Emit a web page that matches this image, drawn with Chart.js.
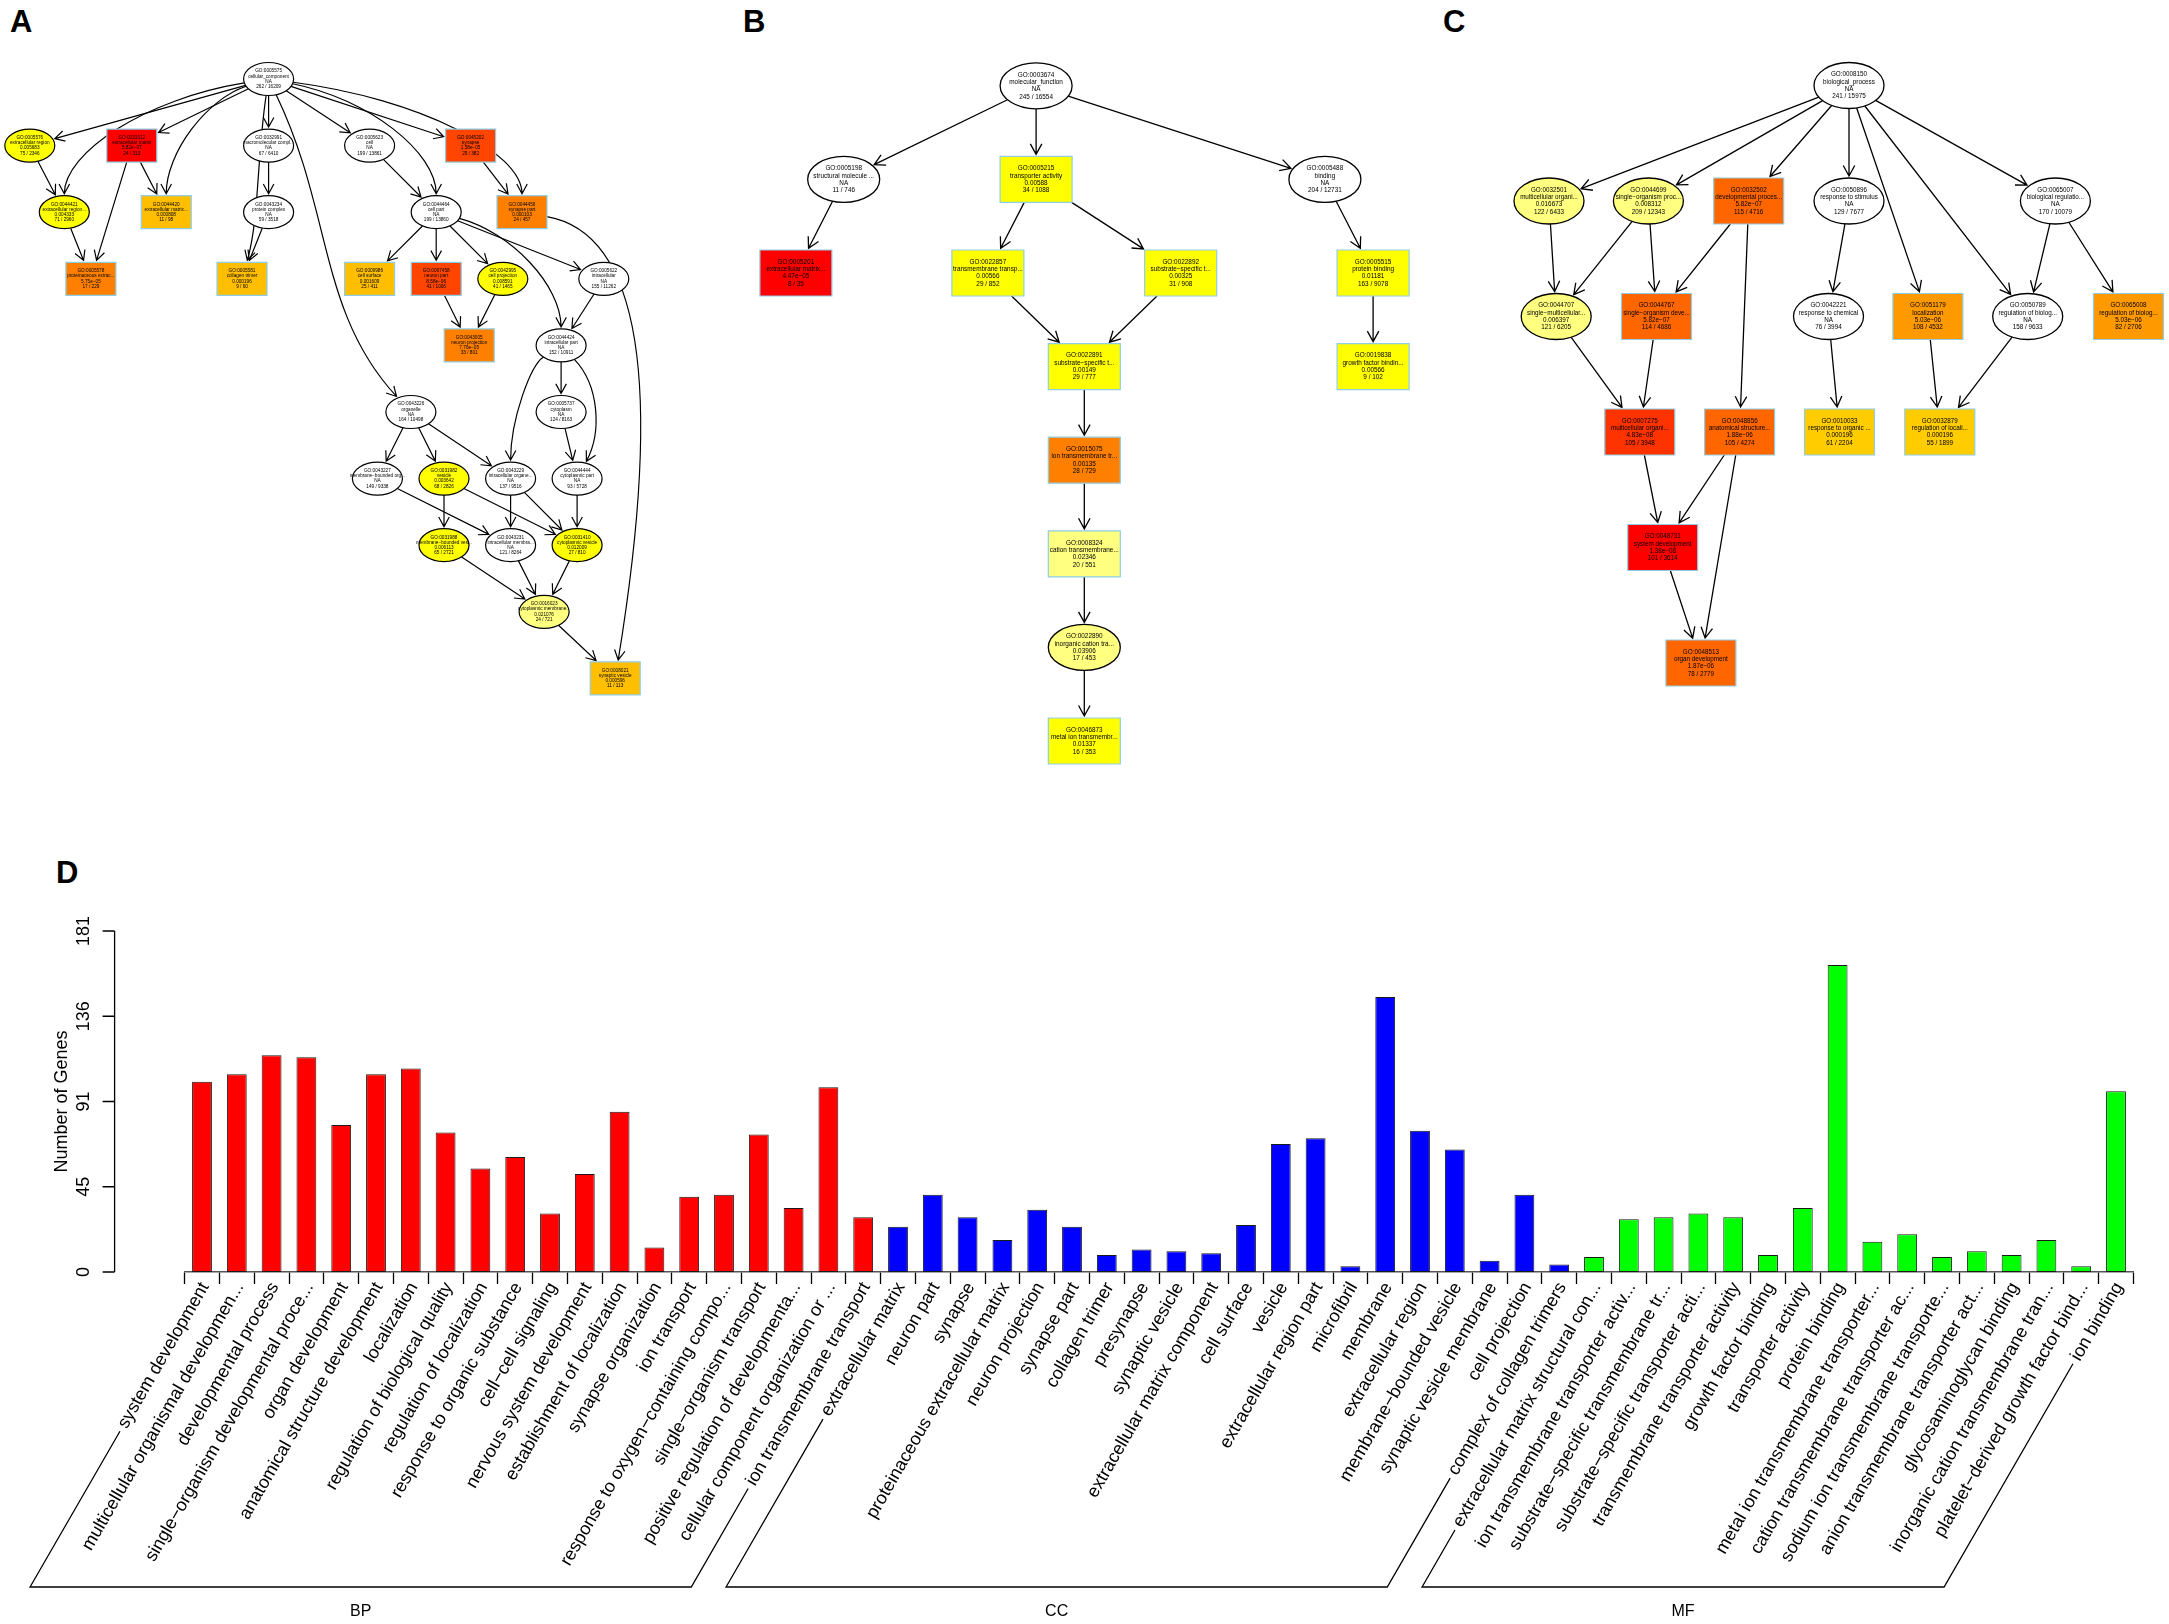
<!DOCTYPE html>
<html>
<head>
<meta charset="utf-8">
<script src="https://cdn.jsdelivr.net/npm/chart.js@4.4.1/dist/chart.umd.min.js"></script>
<style>
  body { margin: 0; background: #fff; width: 2169px; height: 1624px; position: relative; overflow: hidden; }
  canvas { position: absolute; }
  .tag { position: absolute; font: bold 31px "Liberation Sans", Arial, sans-serif; line-height: 1; color: #000; }
</style>
</head>
<body>
<div class="tag" style="left:10px;top:6px">A</div>
<div class="tag" style="left:743px;top:6px">B</div>
<div class="tag" style="left:1443px;top:6px">C</div>
<div class="tag" style="left:56px;top:857px">D</div>
<canvas id="graphA" width="720" height="720" style="left:0;top:0"></canvas>
<canvas id="graphB" width="720" height="800" style="left:720px;top:0"></canvas>
<canvas id="graphC" width="729" height="720" style="left:1440px;top:0"></canvas>
<canvas id="barD" width="2169" height="784" style="left:0;top:840px"></canvas>
<script>
// ---------- panel D data ----------
const bpLabels = ['system development', 'multicellular organismal developmen...', 'developmental process',
  'single\u2212organism developmental proce...', 'organ development', 'anatomical structure development',
  'localization', 'regulation of biological quality', 'regulation of localization',
  'response to organic substance', 'cell\u2212cell signaling', 'nervous system development',
  'establishment of localization', 'synapse organization', 'ion transport',
  'response to oxygen\u2212containing compo...', 'single\u2212organism transport',
  'positive regulation of developmenta...', 'cellular component organization or ...',
  'ion transmembrane transport'];
const bpCounts = [101, 105, 115, 114, 78, 105, 108, 74, 55, 61, 31, 52, 85, 13, 40, 41, 73, 34, 98, 29];

const ccLabels = ['extracellular matrix', 'neuron part', 'synapse', 'proteinaceous extracellular matrix',
  'neuron projection', 'synapse part', 'collagen trimer', 'presynapse', 'synaptic vesicle',
  'extracellular matrix component', 'cell surface', 'vesicle', 'extracellular region part', 'microfibril',
  'membrane', 'extracellular region', 'membrane\u2212bounded vesicle', 'synaptic vesicle membrane',
  'cell projection', 'complex of collagen trimers'];
const ccCounts = [24, 41, 29, 17, 33, 24, 9, 12, 11, 10, 25, 68, 71, 3, 146, 75, 65, 6, 41, 4];

const mfLabels = ['extracellular matrix structural con...', 'ion transmembrane transporter activ...',
  'substrate\u2212specific transmembrane tr...', 'substrate\u2212specific transporter acti...',
  'transmembrane transporter activity', 'growth factor binding', 'transporter activity', 'protein binding',
  'metal ion transmembrane transporter...', 'cation transmembrane transporter ac...',
  'sodium ion transmembrane transporte...', 'anion transmembrane transporter act...',
  'glycosaminoglycan binding', 'inorganic cation transmembrane tran...',
  'platelet\u2212derived growth factor bind...', 'ion binding'];
const mfCounts = [8, 28, 29, 31, 29, 9, 34, 163, 16, 20, 8, 11, 9, 17, 3, 96];

const groupNames = ['BP', 'CC', 'MF'];
const yTicks = [0, 45.25, 90.5, 135.75, 181];
const yTickLabels = ['0', '45', '91', '136', '181'];

// ---------- panel A-C data (GO id, term, p-value, genes) ----------
const aTerms = [
  ['GO:0005575', 'cellular_component', 'NA', '262 / 16209'],
  ['GO:0005576', 'extracellular region', '0.005683', '75 / 2346'],
  ['GO:0031012', 'extracellular matrix', '5.82e\u221207', '24 / 313'],
  ['GO:0032991', 'macromolecular compl...', 'NA', '67 / 6410'],
  ['GO:0005623', 'cell', 'NA', '199 / 13861'],
  ['GO:0045202', 'synapse', '1.58e\u221205', '29 / 382'],
  ['GO:0044421', 'extracellular region...', '0.004333', '71 / 2960'],
  ['GO:0044420', 'extracellular matrix...', '0.000808', '11 / 98'],
  ['GO:0043234', 'protein complex', 'NA', '59 / 3518'],
  ['GO:0044464', 'cell part', 'NA', '199 / 13860'],
  ['GO:0044456', 'synapse part', '0.000103', '24 / 457'],
  ['GO:0005578', 'proteinaceous extrac...', '5.75e\u221205', '17 / 229'],
  ['GO:0005581', 'collagen trimer', '0.000196', '9 / 60'],
  ['GO:0009986', 'cell surface', '0.001609', '25 / 411'],
  ['GO:0097458', 'neuron part', '8.58e\u221206', '41 / 1006'],
  ['GO:0042995', 'cell projection', '0.008591', '41 / 1465'],
  ['GO:0005622', 'intracellular', 'NA', '155 / 11262'],
  ['GO:0043005', 'neuron projection', '7.76e\u221205', '33 / 801'],
  ['GO:0044424', 'intracellular part', 'NA', '152 / 10911'],
  ['GO:0043226', 'organelle', 'NA', '164 / 10498'],
  ['GO:0005737', 'cytoplasm', 'NA', '124 / 8163'],
  ['GO:0043227', 'membrane\u2212bounded org...', 'NA', '149 / 9338'],
  ['GO:0031982', 'vesicle', '0.003642', '68 / 2826'],
  ['GO:0043229', 'intracellular organe...', 'NA', '137 / 9516'],
  ['GO:0044444', 'cytoplasmic part', 'NA', '93 / 5728'],
  ['GO:0031988', 'membrane\u2212bounded ves...', '0.006113', '65 / 2721'],
  ['GO:0043231', 'intracellular membra...', 'NA', '121 / 8264'],
  ['GO:0031410', 'cytoplasmic vesicle', '0.012009', '27 / 810'],
  ['GO:0016023', 'cytoplasmic membrane...', '0.021076', '24 / 721'],
  ['GO:0008021', 'synaptic vesicle', '0.000596', '11 / 113']
];
// graph layout: [x, level], node shape, fill
const aLayout = [
  [268.6, 0, 'e', '#FFFFFF'], [29.8, 1, 'e', '#FFFF00'], [131.8, 1, 'r', '#FF0000'], [268.6, 1, 'e', '#FFFFFF'],
  [369.6, 1, 'e', '#FFFFFF'], [470.6, 1, 'r', '#FF4500'], [64.3, 2, 'e', '#FFFF00'], [166.2, 2, 'r', '#FFBF00'],
  [268.6, 2, 'e', '#FFFFFF'], [436.2, 2, 'e', '#FFFFFF'], [522.0, 2, 'r', '#FF8000'], [90.9, 3, 'r', '#FF8000'],
  [242.0, 3, 'r', '#FFBF00'], [369.6, 3, 'r', '#FFBF00'], [436.2, 3, 'r', '#FF4500'], [502.8, 3, 'e', '#FFFF00'],
  [603.8, 3, 'e', '#FFFFFF'], [469.2, 4, 'r', '#FF8000'], [561.1, 4, 'e', '#FFFFFF'], [410.9, 5, 'e', '#FFFFFF'],
  [561.1, 5, 'e', '#FFFFFF'], [377.4, 6, 'e', '#FFFFFF'], [444.0, 6, 'e', '#FFFF00'], [510.6, 6, 'e', '#FFFFFF'],
  [577.1, 6, 'e', '#FFFFFF'], [444.0, 7, 'e', '#FFFF00'], [510.6, 7, 'e', '#FFFFFF'], [577.1, 7, 'e', '#FFFF00'],
  [544.1, 8, 'e', '#FFFF80'], [615.2, 9, 'r', '#FFBF00']
];
const aEdges = [
  ['GO:0005575', 'GO:0005576', 's'], ['GO:0005575', 'GO:0044421', 'h'], ['GO:0005575', 'GO:0031012', 's'],
  ['GO:0005575', 'GO:0044420', 'h'], ['GO:0005575', 'GO:0005581', 'v'], ['GO:0005575', 'GO:0032991', 's'],
  ['GO:0005575', 'GO:0043226', 'v'], ['GO:0005575', 'GO:0005623', 's'], ['GO:0005575', 'GO:0044464', 'h'],
  ['GO:0005575', 'GO:0045202', 's'], ['GO:0005575', 'GO:0044456', 'h'], ['GO:0005576', 'GO:0044421', 's'],
  ['GO:0031012', 'GO:0044420', 's'], ['GO:0031012', 'GO:0005578', 's'], ['GO:0044421', 'GO:0005578', 's'],
  ['GO:0032991', 'GO:0043234', 's'], ['GO:0043234', 'GO:0005581', 's'], ['GO:0005623', 'GO:0044464', 's'],
  ['GO:0045202', 'GO:0044456', 's'], ['GO:0044456', 'GO:0008021', 'r'], ['GO:0044464', 'GO:0009986', 's'],
  ['GO:0044464', 'GO:0097458', 's'], ['GO:0044464', 'GO:0042995', 's'], ['GO:0044464', 'GO:0005622', 's'],
  ['GO:0044464', 'GO:0044424', 'h'], ['GO:0097458', 'GO:0043005', 's'], ['GO:0042995', 'GO:0043005', 's'],
  ['GO:0005622', 'GO:0044424', 's'], ['GO:0044424', 'GO:0005737', 's'], ['GO:0044424', 'GO:0043229', 'h'],
  ['GO:0044424', 'GO:0044444', 'b'], ['GO:0043226', 'GO:0043227', 's'], ['GO:0043226', 'GO:0031982', 's'],
  ['GO:0043226', 'GO:0043229', 's'], ['GO:0005737', 'GO:0044444', 's'], ['GO:0043227', 'GO:0043231', 's'],
  ['GO:0031982', 'GO:0031988', 's'], ['GO:0031982', 'GO:0031410', 's'], ['GO:0043229', 'GO:0043231', 's'],
  ['GO:0043229', 'GO:0031410', 's'], ['GO:0044444', 'GO:0031410', 's'], ['GO:0031988', 'GO:0016023', 's'],
  ['GO:0043231', 'GO:0016023', 's'], ['GO:0031410', 'GO:0016023', 's'], ['GO:0016023', 'GO:0008021', 's']
];

const bTerms = [
  ['GO:0003674', 'molecular_function', 'NA', '245 / 16554'],
  ['GO:0005198', 'structural molecule ...', 'NA', '11 / 746'],
  ['GO:0005215', 'transporter activity', '0.00588', '34 / 1088'],
  ['GO:0005488', 'binding', 'NA', '204 / 12731'],
  ['GO:0005201', 'extracellular matrix...', '4.47e\u221205', '8 / 35'],
  ['GO:0022857', 'transmembrane transp...', '0.00566', '29 / 852'],
  ['GO:0022892', 'substrate\u2212specific t...', '0.00325', '31 / 908'],
  ['GO:0005515', 'protein binding', '0.01181', '163 / 9078'],
  ['GO:0022891', 'substrate\u2212specific t...', '0.00149', '29 / 777'],
  ['GO:0019838', 'growth factor bindin...', '0.00566', '9 / 102'],
  ['GO:0015075', 'ion transmembrane tr...', '0.00135', '28 / 729'],
  ['GO:0008324', 'cation transmembrane...', '0.02346', '20 / 551'],
  ['GO:0022890', 'inorganic cation tra...', '0.03906', '17 / 453'],
  ['GO:0046873', 'metal ion transmembr...', '0.01337', '16 / 353']
];
const bLayout = [
  [316.1, 0, 'e', '#FFFFFF'], [123.7, 1, 'e', '#FFFFFF'], [316.1, 1, 'r', '#FFFF00'], [604.9, 1, 'e', '#FFFFFF'],
  [75.9, 2, 'r', '#FF0000'], [267.9, 2, 'r', '#FFFF00'], [460.7, 2, 'r', '#FFFF00'], [653.1, 2, 'r', '#FFFF00'],
  [364.3, 3, 'r', '#FFFF00'], [653.1, 3, 'r', '#FFFF00'], [364.3, 4, 'r', '#FF8000'], [364.3, 5, 'r', '#FFFF80'],
  [364.3, 6, 'e', '#FFFF80'], [364.3, 7, 'r', '#FFFF00']
];
const bEdges = [
  ['GO:0003674', 'GO:0005198', 's'], ['GO:0003674', 'GO:0005215', 's'], ['GO:0003674', 'GO:0005488', 's'],
  ['GO:0005198', 'GO:0005201', 's'], ['GO:0005215', 'GO:0022857', 's'], ['GO:0005215', 'GO:0022892', 's'],
  ['GO:0005488', 'GO:0005515', 's'], ['GO:0022857', 'GO:0022891', 's'], ['GO:0022892', 'GO:0022891', 's'],
  ['GO:0005515', 'GO:0019838', 's'], ['GO:0022891', 'GO:0015075', 's'], ['GO:0015075', 'GO:0008324', 's'],
  ['GO:0008324', 'GO:0022890', 's'], ['GO:0022890', 'GO:0046873', 's']
];

const cTerms = [
  ['GO:0008150', 'biological_process', 'NA', '241 / 15975'],
  ['GO:0032501', 'multicellular organi...', '0.016673', '122 / 6433'],
  ['GO:0044699', 'single\u2212organism proc...', '0.008312', '209 / 12343'],
  ['GO:0032502', 'developmental proces...', '5.82e\u221207', '115 / 4716'],
  ['GO:0050896', 'response to stimulus', 'NA', '129 / 7677'],
  ['GO:0065007', 'biological regulatio...', 'NA', '170 / 10079'],
  ['GO:0044707', 'single\u2212multicellular...', '0.006397', '121 / 6205'],
  ['GO:0044767', 'single\u2212organism deve...', '5.82e\u221207', '114 / 4686'],
  ['GO:0042221', 'response to chemical', 'NA', '76 / 3994'],
  ['GO:0051179', 'localization', '5.03e\u221206', '108 / 4532'],
  ['GO:0050789', 'regulation of biolog...', 'NA', '158 / 9633'],
  ['GO:0065008', 'regulation of biolog...', '5.03e\u221206', '82 / 2706'],
  ['GO:0007275', 'multicellular organi...', '4.83e\u221208', '105 / 3948'],
  ['GO:0048856', 'anatomical structure...', '1.88e\u221206', '105 / 4274'],
  ['GO:0010033', 'response to organic ...', '0.000196', '61 / 2204'],
  ['GO:0032879', 'regulation of locali...', '0.000196', '55 / 1899'],
  ['GO:0048731', 'system development', '1.38e\u221208', '101 / 3614'],
  ['GO:0048513', 'organ development', '1.87e\u221206', '78 / 2779']
];
const cLayout = [
  [409.0, 0, 'e', '#FFFFFF'], [109.0, 1, 'e', '#FFFF80'], [208.4, 1, 'e', '#FFFF80'], [308.7, 1, 'r', '#FF6600'],
  [409.0, 1, 'e', '#FFFFFF'], [615.4, 1, 'e', '#FFFFFF'], [116.2, 2, 'e', '#FFFF80'], [216.5, 2, 'r', '#FF6600'],
  [388.5, 2, 'e', '#FFFFFF'], [487.9, 2, 'r', '#FF9900'], [587.7, 2, 'e', '#FFFFFF'], [688.5, 2, 'r', '#FF9900'],
  [199.8, 3, 'r', '#FF3300'], [299.6, 3, 'r', '#FF6600'], [399.5, 3, 'r', '#FFCC00'], [499.8, 3, 'r', '#FFCC00'],
  [222.7, 4, 'r', '#FF0000'], [260.9, 5, 'r', '#FF6600']
];
const cEdges = [
  ['GO:0008150', 'GO:0032501', 's'], ['GO:0008150', 'GO:0044699', 's'], ['GO:0008150', 'GO:0032502', 's'],
  ['GO:0008150', 'GO:0050896', 's'], ['GO:0008150', 'GO:0065007', 's'], ['GO:0008150', 'GO:0051179', 's'],
  ['GO:0008150', 'GO:0050789', 's'], ['GO:0032501', 'GO:0044707', 's'], ['GO:0044699', 'GO:0044707', 's'],
  ['GO:0044699', 'GO:0044767', 's'], ['GO:0032502', 'GO:0044767', 's'], ['GO:0032502', 'GO:0048856', 's'],
  ['GO:0050896', 'GO:0042221', 's'], ['GO:0065007', 'GO:0050789', 's'], ['GO:0065007', 'GO:0065008', 's'],
  ['GO:0044707', 'GO:0007275', 's'], ['GO:0044767', 'GO:0007275', 's'], ['GO:0042221', 'GO:0010033', 's'],
  ['GO:0051179', 'GO:0032879', 's'], ['GO:0050789', 'GO:0032879', 's'], ['GO:0007275', 'GO:0048731', 's'],
  ['GO:0048856', 'GO:0048731', 's'], ['GO:0048856', 'GO:0048513', 's'], ['GO:0048731', 'GO:0048513', 's']
];

const FONT = '"Liberation Sans", Arial, sans-serif';
Chart.defaults.font.family = FONT;
Chart.defaults.color = '#000';

// ---------- GO graphs ----------
function boundary(c, tx, ty, w, h, shape, gap) {
  const dx = tx - c.x, dy = ty - c.y;
  const len = Math.hypot(dx, dy) || 1;
  const ux = dx / len, uy = dy / len;
  const a = w / 2, b = h / 2;
  let t;
  if (shape === 'e') {
    t = 1 / Math.sqrt((ux / a) ** 2 + (uy / b) ** 2);
  } else {
    t = Math.min(Math.abs(ux) > 1e-6 ? a / Math.abs(ux) : 1e9, Math.abs(uy) > 1e-6 ? b / Math.abs(uy) : 1e9);
  }
  t += gap;
  return { x: c.x + ux * t, y: c.y + uy * t };
}

// spline control points for the curved edges
function controls(S, T, style) {
  const dx = T.x - S.x, dy = T.y - S.y;
  if (style === 'h') return [{ x: S.x + 0.6 * dx, y: S.y + 0.15 * dy }, { x: T.x, y: T.y - 0.45 * dy }];
  if (style === 'v') return [{ x: S.x + 0.45 * dx, y: S.y + 0.4 * dy }, { x: T.x - 0.65 * dx, y: T.y - 0.3 * dy }];
  if (style === 'r') return [{ x: S.x + 1.4 * dx, y: S.y + 0.05 * dy }, { x: T.x + 0.45 * dx, y: T.y - 0.55 * dy }];
  return [{ x: S.x + 0.5 * dx + 30, y: S.y + 0.3 * dy }, { x: T.x + 25, y: T.y - 0.35 * dy }];
}

function makeGraph(canvasId, terms, layout, edges, look) {
  const canvas = document.getElementById(canvasId);
  const goPlugin = {
    id: 'goGraph',
    afterDatasetsDraw(chart) {
      const { ctx, scales: { x, y } } = chart;
      const pos = {};
      terms.forEach((t, i) => {
        pos[t[0]] = { x: x.getPixelForValue(layout[i][0]), y: y.getPixelForValue(layout[i][1]), shape: layout[i][2] };
      });
      ctx.save();
      ctx.strokeStyle = '#000';
      ctx.lineWidth = look.lw;
      edges.forEach(([from, to, style]) => {
        const S = pos[from], T = pos[to];
        let c1 = T, c2 = S;
        if (style !== 's') [c1, c2] = controls(S, T, style);
        const p0 = boundary(S, c1.x, c1.y, look.w, look.h, S.shape, 0);
        const p3 = boundary(T, c2.x, c2.y, look.w, look.h, T.shape, 2);
        ctx.beginPath();
        ctx.moveTo(p0.x, p0.y);
        if (style === 's') ctx.lineTo(p3.x, p3.y);
        else ctx.bezierCurveTo(c1.x, c1.y, c2.x, c2.y, p3.x, p3.y);
        const from2 = style === 's' ? p0 : c2;
        const ang = Math.atan2(p3.y - from2.y, p3.x - from2.x);
        ctx.moveTo(p3.x - look.arrow * Math.cos(ang - 0.5), p3.y - look.arrow * Math.sin(ang - 0.5));
        ctx.lineTo(p3.x, p3.y);
        ctx.lineTo(p3.x - look.arrow * Math.cos(ang + 0.5), p3.y - look.arrow * Math.sin(ang + 0.5));
        ctx.stroke();
      });
      terms.forEach((t, i) => {
        const p = pos[t[0]];
        ctx.beginPath();
        if (p.shape === 'e') {
          ctx.ellipse(p.x, p.y, look.w / 2, look.h / 2, 0, 0, Math.PI * 2);
          ctx.fillStyle = layout[i][3];
          ctx.fill();
          ctx.strokeStyle = '#000';
          ctx.lineWidth = look.lw;
          ctx.stroke();
        } else {
          ctx.rect(p.x - look.w / 2, p.y - look.h / 2, look.w, look.h);
          ctx.fillStyle = layout[i][3];
          ctx.fill();
          ctx.strokeStyle = '#8FCDE6';
          ctx.lineWidth = 1.2;
          ctx.stroke();
        }
        ctx.fillStyle = '#000';
        ctx.font = look.font + 'px ' + FONT;
        ctx.textAlign = 'center';
        ctx.textBaseline = 'middle';
        t.forEach((line, k) => ctx.fillText(line, p.x, p.y + (k - 1.5) * look.lh));
      });
      ctx.restore();
    }
  };
  return new Chart(canvas, {
    type: 'scatter',
    data: { datasets: [{ data: layout.map(l => ({ x: l[0], y: l[1] })), pointRadius: 0 }] },
    options: {
      responsive: false,
      animation: false,
      devicePixelRatio: 1,
      layout: { padding: 0 },
      plugins: { legend: { display: false }, tooltip: { enabled: false } },
      scales: {
        x: { display: false, min: 0, max: canvas.width },
        y: { display: false, reverse: true, min: -look.top / look.step, max: (canvas.height - look.top) / look.step }
      }
    },
    plugins: [goPlugin]
  });
}

makeGraph('graphA', aTerms, aLayout, aEdges, { top: 79, step: 66.6, w: 50, h: 33, font: 4.7, lh: 5.2, lw: 1.2, arrow: 11 });
makeGraph('graphB', bTerms, bLayout, bEdges, { top: 85.8, step: 93.6, w: 72, h: 46, font: 6.4, lh: 7.3, lw: 1.3, arrow: 12 });
makeGraph('graphC', cTerms, cLayout, cEdges, { top: 85.5, step: 115.5, w: 70, h: 46, font: 6.3, lh: 7.2, lw: 1.3, arrow: 12 });

// ---------- panel D bar chart ----------
const allLabels = bpLabels.concat(ccLabels, mfLabels);
const allCounts = bpCounts.concat(ccCounts, mfCounts);
const groupSizes = [bpLabels.length, ccLabels.length, mfLabels.length];
const barColors = bpLabels.map(() => '#FF0000')
  .concat(ccLabels.map(() => '#0000FF'), mfLabels.map(() => '#00FF00'));

const rAxes = {
  id: 'rAxes',
  afterDraw(chart) {
    const { ctx, scales: { x, y } } = chart;
    ctx.save();
    ctx.strokeStyle = '#000';
    ctx.fillStyle = '#000';
    ctx.lineWidth = 1.3;
    // y axis, R style, set off from the bars
    const ax = x.left - 70;
    ctx.beginPath();
    ctx.moveTo(ax, y.getPixelForValue(yTicks[yTicks.length - 1]));
    ctx.lineTo(ax, y.getPixelForValue(0));
    yTicks.forEach(v => {
      const py = y.getPixelForValue(v);
      ctx.moveTo(ax, py);
      ctx.lineTo(ax - 12, py);
    });
    ctx.stroke();
    ctx.font = '18px ' + FONT;
    ctx.textAlign = 'center';
    ctx.textBaseline = 'middle';
    yTicks.forEach((v, i) => {
      ctx.save();
      ctx.translate(ax - 31, y.getPixelForValue(v));
      ctx.rotate(-Math.PI / 2);
      ctx.fillText(yTickLabels[i], 0, 0);
      ctx.restore();
    });
    ctx.save();
    ctx.translate(ax - 53, (y.top + y.bottom) / 2);
    ctx.rotate(-Math.PI / 2);
    ctx.fillText('Number of Genes', 0, 0);
    ctx.restore();

    // slanted category labels
    const ang = 60 * Math.PI / 180;
    const y0 = x.top + 12;
    ctx.textAlign = 'right';
    allLabels.forEach((lab, i) => {
      ctx.save();
      ctx.translate(x.getPixelForValue(i) + 3, y0);
      ctx.rotate(-ang);
      ctx.fillText(lab, 0, 0);
      ctx.restore();
    });

    // group brackets
    const bottomY = x.top + 315;
    const dirx = -Math.cos(ang), diry = Math.sin(ang);
    const slant = i => {
      const w = ctx.measureText(allLabels[i]).width + 5;
      const sx = x.getPixelForValue(i) + 3 + dirx * w, sy = y0 + diry * w;
      return { sx, sy, bx: sx + (bottomY - sy) / diry * dirx };
    };
    ctx.lineWidth = 1.3;
    ctx.textAlign = 'center';
    ctx.font = '16px ' + FONT;
    let start = 0;
    groupSizes.forEach((n, g) => {
      ctx.font = '18px ' + FONT;
      const L = slant(start), R = slant(start + n - 1);
      ctx.beginPath();
      ctx.moveTo(L.sx, L.sy);
      ctx.lineTo(L.bx, bottomY);
      ctx.lineTo(R.bx, bottomY);
      ctx.lineTo(R.sx, R.sy);
      ctx.stroke();
      ctx.font = '16px ' + FONT;
      ctx.fillText(groupNames[g], (L.bx + R.bx) / 2, bottomY + 25);
      start += n;
    });
    ctx.restore();
  }
};

new Chart(document.getElementById('barD'), {
  type: 'bar',
  data: {
    labels: allLabels,
    datasets: [{
      data: allCounts,
      backgroundColor: barColors,
      borderColor: '#1a1a1a',
      borderWidth: 1,
      borderSkipped: false,
      barPercentage: 0.57,
      categoryPercentage: 1.0
    }]
  },
  options: {
    responsive: false,
    animation: false,
    devicePixelRatio: 1,
    layout: { padding: { left: 184.6, right: 35.6, top: 91, bottom: 0 } },
    plugins: { legend: { display: false }, tooltip: { enabled: false } },
    scales: {
      x: {
        offset: true,
        ticks: { display: false },
        grid: { display: true, drawOnChartArea: false, drawTicks: true, tickLength: 12, tickWidth: 1.3, tickColor: '#000', offset: true },
        border: { display: true, color: '#555', width: 1.5 },
        afterFit(s) { s.height = 352; }
      },
      y: { display: false, min: 0, max: 181 }
    }
  },
  plugins: [rAxes]
});
</script>
</body>
</html>
